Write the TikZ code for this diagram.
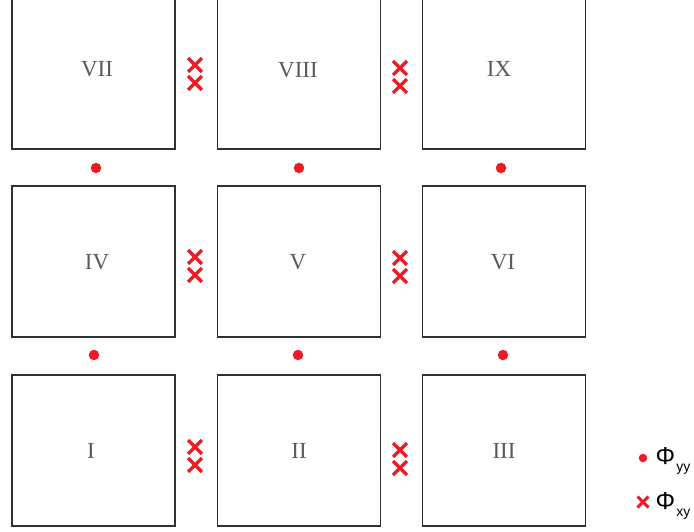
\documentclass[tikz,border=0pt]{standalone}
\usepackage{fontspec}
\usetikzlibrary{shapes.misc}
\setmainfont{Liberation Serif}
\newfontfamily\legendfont{Liberation Sans}
\definecolor{mkred}{HTML}{ED1C24}
\definecolor{boxline}{HTML}{303030}
\definecolor{numgrey}{HTML}{5A5A5A}
\begin{document}
\begin{tikzpicture}[x=1pt,y=-1pt,
  cell/.style={draw=boxline,line width=1.7pt,minimum width=163pt,minimum height=151pt,inner sep=0pt},
  numlabel/.style={font=\fontsize{23}{26}\selectfont,text=numgrey,inner sep=0pt},
  dotmark/.style={circle,fill=mkred,minimum size=10.5pt,inner sep=0pt},
  crossmark/.style={cross out,draw=mkred,line width=3.4pt,minimum size=10.5pt,inner sep=0pt},
  legtext/.style={font=\legendfont\fontsize{24.5}{26}\selectfont,inner sep=0pt,anchor=base west}]
\useasboundingbox (0,0) rectangle (694,531);
% boxes
\node[cell] (b7) at (93.5,73.5) {};
\node[cell] (b8) at (299,73.5) {};
\node[cell] (b9) at (504,73.5) {};
\node[cell] (b4) at (93.5,261.5) {};
\node[cell] (b5) at (299,261.5) {};
\node[cell] (b6) at (504,261.5) {};
\node[cell] (b1) at (93.5,450.5) {};
\node[cell] (b2) at (299,450.5) {};
\node[cell] (b3) at (504,450.5) {};
% labels
\node[numlabel] (l7) at (97,69) {VII};
\node[numlabel] (l8) at (298,70) {VIII};
\node[numlabel] (l9) at (499,69) {IX};
\node[numlabel] (l4) at (97,262) {IV};
\node[numlabel] (l5) at (298,262) {V};
\node[numlabel] (l6) at (503,262) {VI};
\node[numlabel] (l1) at (91,451) {I};
\node[numlabel] (l2) at (299,451) {II};
\node[numlabel] (l3) at (504,451) {III};
% dots
\node[dotmark] (d1) at (96,168) {};
\node[dotmark] (d2) at (299,168) {};
\node[dotmark] (d3) at (501,168) {};
\node[dotmark] (d4) at (94,355) {};
\node[dotmark] (d5) at (298,355) {};
\node[dotmark] (d6) at (503,355) {};
% crosses
\node[crossmark] (c1) at (195,65) {};
\node[crossmark] (c2) at (195,83) {};
\node[crossmark] (c3) at (400,68) {};
\node[crossmark] (c4) at (400,86) {};
\node[crossmark] (c5) at (195,257) {};
\node[crossmark] (c6) at (195,275) {};
\node[crossmark] (c7) at (400,258) {};
\node[crossmark] (c8) at (400,276) {};
\node[crossmark] (c9) at (195,447) {};
\node[crossmark] (c10) at (195,465) {};
\node[crossmark] (c11) at (400,450) {};
\node[crossmark] (c12) at (400,468) {};
% legend
\node[dotmark,minimum size=8.5pt] (ld) at (643,458) {};
\node[legtext] (lt1) at (655.5,464.5) {Φ\hspace{1pt}\raisebox{-7pt}{\fontsize{14}{16}\selectfont yy}};
\node[crossmark,minimum size=8pt,line width=3pt] (lc) at (643,502) {};
\node[legtext] (lt2) at (655.5,509.5) {Φ\hspace{1pt}\raisebox{-7pt}{\fontsize{14}{16}\selectfont xy}};
\end{tikzpicture}
\end{document}
